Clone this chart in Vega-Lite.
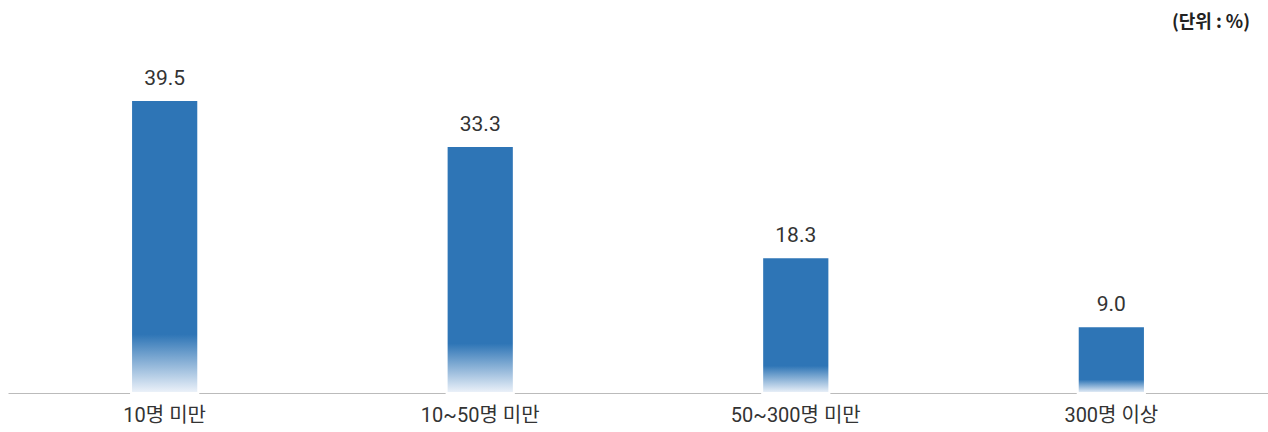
{
  "$schema": "https://vega.github.io/schema/vega-lite/v6.json",
  "autosize": "none",
  "width": 1260,
  "height": 353,
  "padding": {"left": 8, "top": 40, "right": 0, "bottom": 39},
  "background": "white",
  "title": {"text": "(단위 : %)", "anchor": "end", "fontSize": 18, "fontWeight": "bold", "font": "Noto Sans CJK KR", "color": "#222", "offset": 8, "dx": -18},
  "config": {"view": {"stroke": null}, "font": "Roboto, Noto Sans CJK KR"},
  "data": {"values": [
    {"group": "10명 미만", "value": 39.5},
    {"group": "10~50명 미만", "value": 33.3},
    {"group": "50~300명 미만", "value": 18.3},
    {"group": "300명 이상", "value": 9.0}
  ]},
  "encoding": {
    "x": {"field": "group", "type": "nominal", "sort": null, "scale": {"paddingInner": 0.787, "paddingOuter": 0.39},
      "axis": {"title": null, "labelAngle": 0, "ticks": false, "labelFontSize": 20, "labelColor": "#333", "labelPadding": 12, "domainColor": "#bbb", "labelFont": "Roboto, Noto Sans CJK KR"}},
    "y": {"field": "value", "type": "quantitative", "scale": {"domain": [0, 47.6]}, "axis": null}
  },
  "layer": [
    {"mark": {"type": "bar", "stroke": "white", "strokeWidth": 2,
      "color": {"gradient": "linear", "x1": 0, "y1": 0, "x2": 0, "y2": 1,
        "stops": [{"offset": 0, "color": "#2e75b6"}, {"offset": 0.8, "color": "#2e75b6"}, {"offset": 1, "color": "#eef3fa"}]}}},
    {"mark": {"type": "text", "baseline": "alphabetic", "dy": -15, "fontSize": 21, "color": "#333"},
     "encoding": {"text": {"field": "value", "type": "quantitative", "format": ".1f"}}}
  ]
}
